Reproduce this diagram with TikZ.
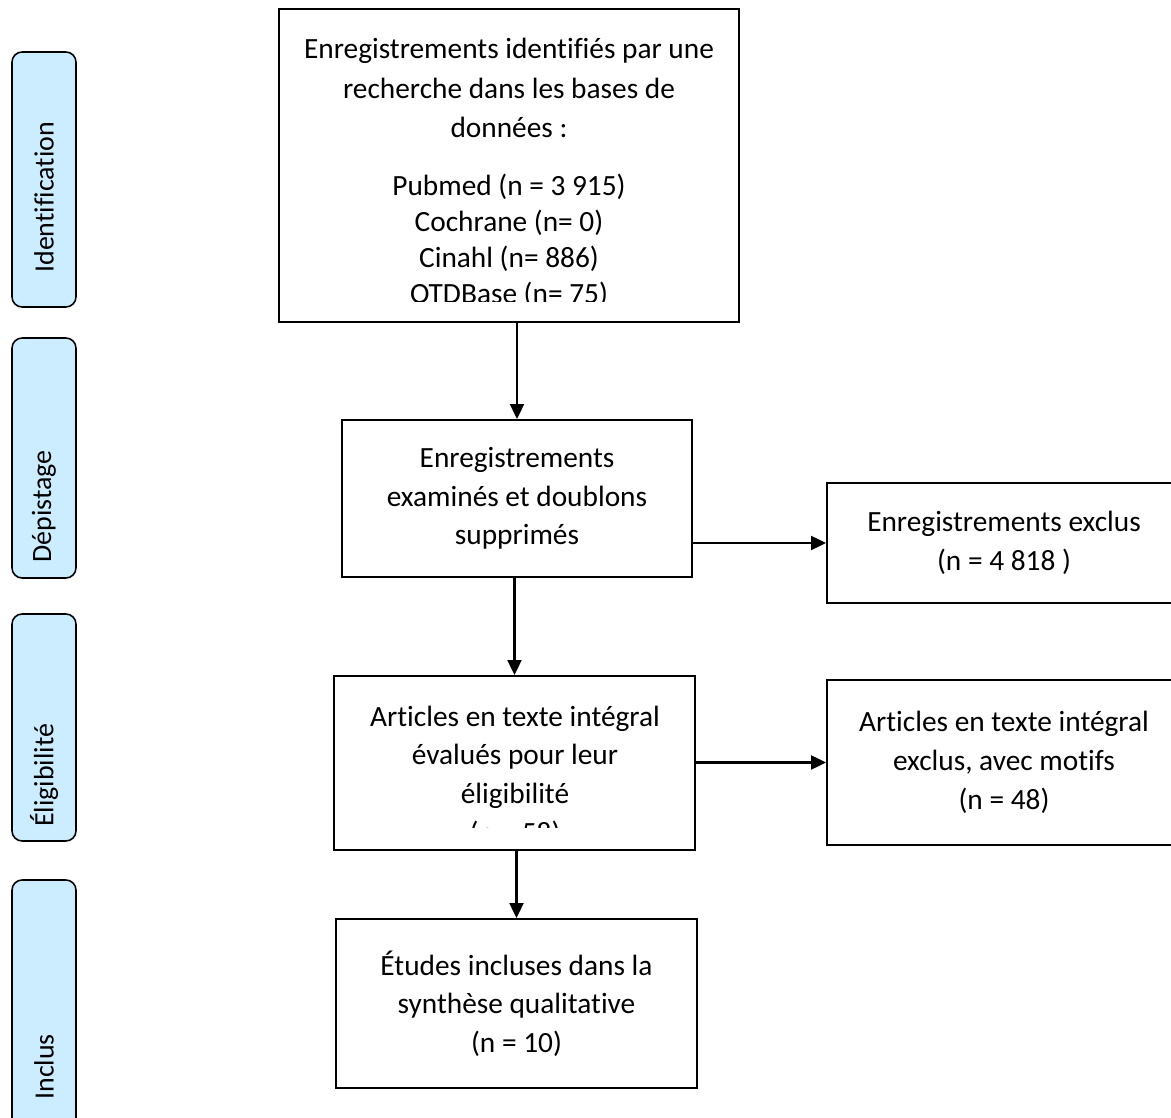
\documentclass[tikz,border=0pt]{standalone}
\usepackage{fontspec}
\setmainfont{Carlito}[Ligatures={NoCommon,NoContextual}]
\usetikzlibrary{positioning, arrows.meta}
\definecolor{phaseblue}{HTML}{CCECFF}
\newcommand{\flowfont}{\fontsize{16.7}{22}\selectfont}
\newcommand{\listfont}{\fontsize{16.7}{20.6}\selectfont}
\newcommand{\phasefont}{\fontsize{15.9}{19}\selectfont}

\begin{document}
\begin{tikzpicture}[x=0.02cm, y=-0.02cm,
        flowbox/.style={draw, line width=1.1pt, inner sep=0pt, align=center, font=\flowfont},
        flowtext/.style={inner sep=0pt, align=center},
        phase/.style={draw, line width=0.9pt, rounded corners=0.2cm, fill=phaseblue,
                      minimum width=1.28cm, inner sep=0pt},
        phaselabel/.style={rotate=90, anchor=west, font=\phasefont, inner sep=0pt},
        arr/.style={-{Triangle[length=0.3cm, width=0.28cm]}, line width=1.2pt}
    ]
    \clip (0,0) rectangle (1171,1118);

    % Left column: phases
    \node[phase, minimum height=5.1cm]  (pid)   at (44,179.5) {};
    \node[phase, minimum height=4.8cm]  (pscr)  at (44,458)   {};
    \node[phase, minimum height=4.54cm] (pelig) at (44,727.5) {};
    \node[phase, minimum height=5cm]    (pinc)  at (44,1005)  {};
    \node[phaselabel] (lid)   at (44,273)  {Identification};
    \node[phaselabel] (lscr)  at (44,563)  {Dépistage};
    \node[phaselabel] (lelig) at (44,827)  {Éligibilité};
    \node[phaselabel] (linc)  at (44,1100) {Inclus};

    % Main column
    \node[flowbox, minimum width=9.2cm, minimum height=6.26cm] (ident) at (509,165.5) {};
    \begin{scope}
        \clip (279,9) rectangle (739,302);
        \node[flowtext, font=\listfont] (identtxt) at (509,173)
            {Enregistrements identifiés par une\\[2pt] recherche dans les bases de\\[2pt]
             données :\\[12pt] Pubmed (n = 3 915)\\ Cochrane (n= 0)\\ Cinahl (n= 886)\\ OTDBase (n= 75)};
    \end{scope}
    \node[flowbox, minimum width=7cm, minimum height=3.14cm] (screen) at (517,498.5)
        {Enregistrements\\ examinés et doublons\\ supprimés};
    \node[flowbox, minimum width=7.22cm, minimum height=3.48cm] (elig) at (514.5,763) {};
    \begin{scope}
        \clip (334,676) rectangle (695,827);
        \node[flowtext, font=\flowfont] (eligtxt) at (515,776)
            {Articles en texte intégral\\ évalués pour leur\\ éligibilité\\ (n = 58)};
    \end{scope}
    \node[flowbox, minimum width=7.22cm, minimum height=3.38cm] (incl) at (516.5,1003.5)
        {Études incluses dans la\\ synthèse qualitative\\ (n = 10)};

    % Right column: exclusions
    \node[flowbox, minimum width=7.08cm, minimum height=2.4cm] (exscr) at (1004,543)
        {Enregistrements exclus\\ (n = 4 818 )};
    \node[flowbox, minimum width=7.08cm, minimum height=3.3cm] (exelig) at (1004,762.5)
        {Articles en texte intégral\\ exclus, avec motifs\\ (n = 48)};

    % Arrows down the main column
    \foreach \a/\b in {ident/screen, screen/elig, elig/incl}
        \draw[arr] (\b.north |- \a.south) -- (\b.north);

    % Arrows to exclusions
    \draw[arr] (exscr.west -| screen.east) -- (exscr.west);
    \draw[arr] (exelig.west -| elig.east) -- (exelig.west);
\end{tikzpicture}
\end{document}
